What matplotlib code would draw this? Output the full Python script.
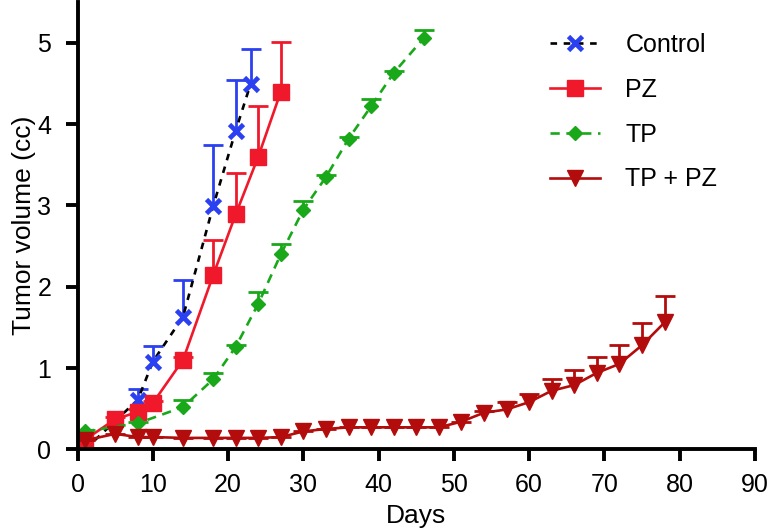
import matplotlib.pyplot as plt
import numpy as np

plt.rcParams['font.family'] = ['Liberation Sans', 'DejaVu Sans']

# data (days, mean volume, upper error bar top)
ctrl_days = [1, 8, 10, 14, 18, 21, 23]
ctrl_vol = [0.0, 0.61, 1.08, 1.63, 2.99, 3.92, 4.50]
ctrl_top = [0.0, 0.74, 1.27, 2.08, 3.74, 4.54, 4.93]

pz_days = [1, 5, 8, 10, 14, 18, 21, 24, 27]
pz_vol = [0.12, 0.37, 0.46, 0.57, 1.10, 2.14, 2.89, 3.60, 4.40]
pz_top = [0.12, 0.40, 0.50, 0.60, 1.14, 2.57, 3.40, 4.22, 5.01]

tp_days = [1, 8, 14, 18, 21, 24, 27, 30, 33, 36, 39, 42, 46]
tp_vol = [0.22, 0.32, 0.52, 0.86, 1.26, 1.79, 2.40, 2.95, 3.35, 3.82, 4.22, 4.63, 5.06]
tp_top = [0.24, 0.34, 0.61, 0.94, 1.28, 1.93, 2.52, 3.05, 3.37, 3.84, 4.31, 4.65, 5.16]

combo_days = [1, 5, 8, 10, 14, 18, 21, 24, 27, 30, 33, 36, 39, 42, 45, 48,
              51, 54, 57, 60, 63, 66, 69, 72, 75, 78]
combo_vol = [0.11, 0.19, 0.15, 0.15, 0.14, 0.14, 0.14, 0.14, 0.15, 0.22, 0.25, 0.27,
             0.27, 0.27, 0.27, 0.27, 0.34, 0.45, 0.49, 0.58, 0.72, 0.79, 0.94, 1.05,
             1.28, 1.56]
combo_top = [0.11, 0.19, 0.15, 0.15, 0.14, 0.14, 0.14, 0.14, 0.15, 0.22, 0.25, 0.27,
             0.27, 0.27, 0.27, 0.27, 0.34, 0.47, 0.58, 0.68, 0.87, 0.97, 1.14, 1.28,
             1.55, 1.88]

fig = plt.figure(figsize=(7.73, 5.29), dpi=100)
ax = fig.add_axes([0.1005, 0.1507, 0.876, 0.845])


def series(days, vol, top, label, line_color, marker_color, marker, ms, ls, mew=1):
    vol = np.array(vol)
    up = np.array(top) - vol
    eb = ax.errorbar(days, vol, yerr=[np.zeros_like(up), up], fmt='none',
                     ecolor=marker_color, elinewidth=2, capsize=7, capthick=2)
    eb[1][0].set_visible(False)
    ax.plot(days, vol, color=line_color, ls=ls, lw=1.9, marker=marker, ms=ms,
            mfc=marker_color, mec=marker_color, mew=mew, label=label)


series(ctrl_days, ctrl_vol, ctrl_top, 'Control', 'black', '#2b40f0', 'x', 10.5, (0, (2.5, 2.5)), mew=3.4)
series(pz_days, pz_vol, pz_top, 'PZ', '#f0192b', '#f0192b', 's', 11.5, '-')
series(tp_days, tp_vol, tp_top, 'TP', '#19a819', '#19a819', 'D', 7.5, (0, (3.5, 2.5)))
series(combo_days, combo_vol, combo_top, 'TP + PZ', '#b30c0c', '#b30c0c', 'v', 11.5, '-')

ax.set_xlim(0, 90)
ax.set_ylim(0, 5.5)
ax.set_xticks(range(0, 91, 10))
ax.set_yticks(range(0, 6))
for s in ['top', 'right']:
    ax.spines[s].set_visible(False)
for s in ['left', 'bottom']:
    ax.spines[s].set_linewidth(2.8)
ax.tick_params(width=2.8, length=8.5, labelsize=18)
ax.tick_params(axis='y', pad=10.5)
ax.tick_params(axis='x', pad=8.5)
ax.set_xlabel('Days', fontsize=19, labelpad=5)
ax.set_ylabel('Tumor volume (cc)', fontsize=19, labelpad=1)

ax.legend(loc='upper left', bbox_to_anchor=(0.683, 0.98), bbox_transform=fig.transFigure,
          frameon=False, fontsize=18, handlelength=2.0, labelspacing=0.83,
          handletextpad=1.0)

fig.savefig('out.png', dpi=100)
